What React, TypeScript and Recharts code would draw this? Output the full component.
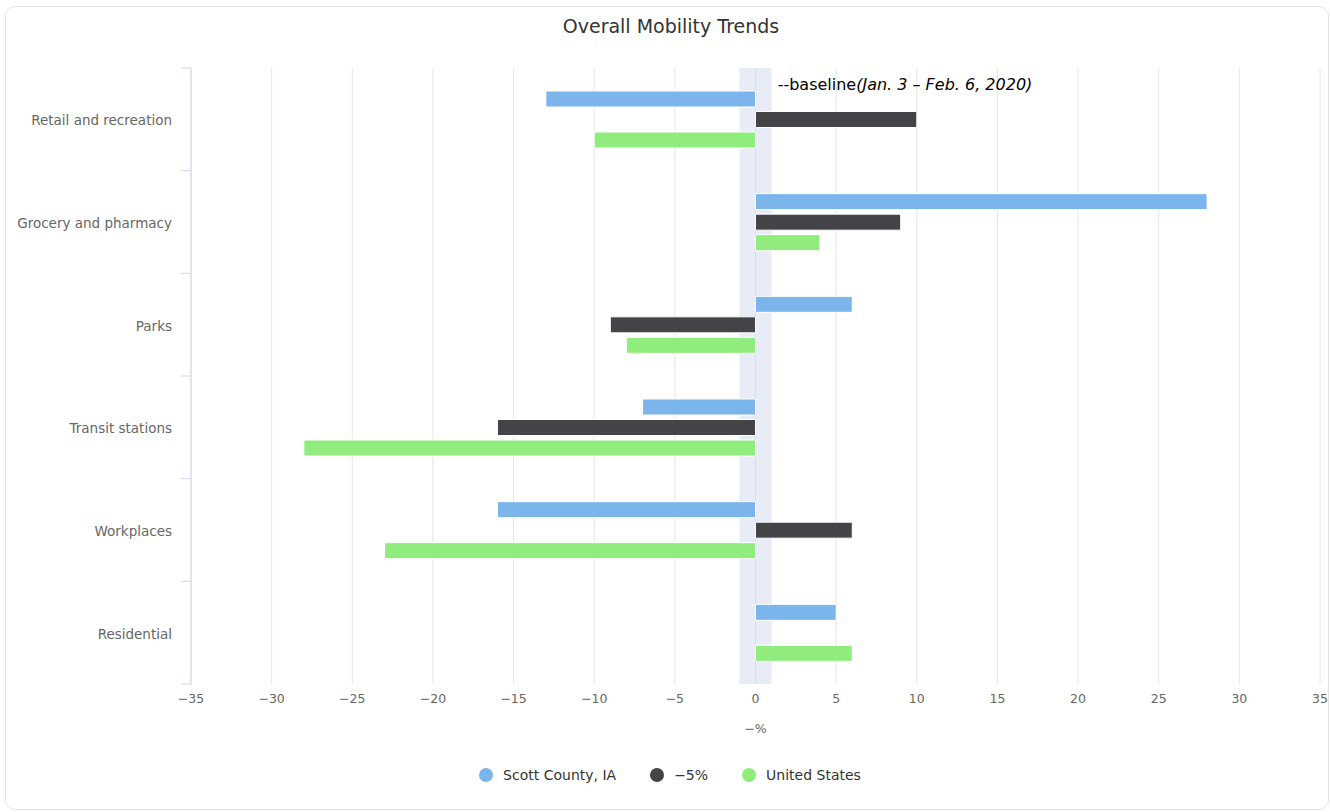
import { BarChart, Bar, XAxis, YAxis, CartesianGrid, Legend, ReferenceArea } from 'recharts';

const categories = ['Retail and recreation', 'Grocery and pharmacy', 'Parks', 'Transit stations', 'Workplaces', 'Residential'];
const scottCounty = [-13, 28, 6, -7, -16, 5];
const minusFive: (number | null)[] = [10, 9, -9, -16, 6, null];
const unitedStates = [-10, 4, -8, -28, -23, 6];
const xTicks = [-35, -30, -25, -20, -15, -10, -5, 0, 5, 10, 15, 20, 25, 30, 35];

const seriesNames = ['Scott County, IA', '\u22125%', 'United States'];
const seriesColors = ['#7cb5ec', '#434348', '#90ed7d'];

const FONT = '"Lucida Grande", "DejaVu Sans", sans-serif';

const data = categories.map((name, i) => ({
  name,
  scott: scottCounty[i],
  minus5: minusFive[i],
  us: unitedStates[i],
}));

const fmt = (v: number) => String(v).replace('-', '\u2212');

const CategoryTick = (props: any) => {
  const { x, y, payload, index } = props;
  const half = payload.offset ?? 0;
  return (
    <g>
      <line x1={x - 10} x2={x} y1={y - half} y2={y - half} stroke="#ccd6eb" />
      {index === categories.length - 1 && (
        <line x1={x - 10} x2={x} y1={y + half} y2={y + half} stroke="#ccd6eb" />
      )}
      <text x={x - 19} y={y + 1} textAnchor="end" dominantBaseline="central" fill="#666" fontSize={13.5} fontFamily={FONT}>
        {payload.value}
      </text>
    </g>
  );
};

const BaselineLabel = (props: any) => {
  const { viewBox } = props;
  if (!viewBox) return null;
  return (
    <text x={viewBox.x + viewBox.width + 6} y={viewBox.y + 16} dominantBaseline="central" fontSize={16} fontFamily={FONT} fill="#000">
      <tspan>--baseline</tspan>
      <tspan fontStyle="italic">(Jan. 3 – Feb. 6, 2020)</tspan>
    </text>
  );
};

const LegendContent = () => (
  <div style={{ display: 'flex', justifyContent: 'center', alignItems: 'center', height: 30, fontFamily: FONT, fontSize: 14, color: '#333', paddingLeft: 4 }}>
    {seriesNames.map((n, i) => (
      <div key={n} style={{ display: 'flex', alignItems: 'center', marginRight: i < seriesNames.length - 1 ? 34 : 0 }}>
        <span style={{ width: 14, height: 14, borderRadius: 7, background: seriesColors[i], display: 'inline-block', marginRight: 10 }} />
        <span>{n}</span>
      </div>
    ))}
  </div>
);

const App = () => {
  return (
    <div
      style={{
        position: 'absolute',
        left: 5,
        top: 6,
        width: 1322,
        height: 802,
        border: '1px solid #e3e3e3',
        borderRadius: 10,
        background: '#fff',
      }}
    >
      <div
        style={{
          position: 'absolute',
          top: 8,
          left: 4,
          width: '100%',
          textAlign: 'center',
          fontFamily: FONT,
          fontSize: 19,
          lineHeight: '22px',
          color: '#333',
        }}
      >
        Overall Mobility Trends
      </div>
      <BarChart
        width={1322}
        height={802}
        data={data}
        layout="vertical"
        margin={{ top: 61, right: 8, left: 10, bottom: 19 }}
        barSize={16}
        barGap={4.5}
      >
        <CartesianGrid horizontal={false} stroke="#e6e6e6" />
        <ReferenceArea x1={-1} x2={1} fill="#c2cfe8" fillOpacity={0.4} stroke="none" label={<BaselineLabel />} />
        <XAxis
          type="number"
          domain={[-35, 35]}
          ticks={xTicks}
          tickFormatter={fmt}
          axisLine={false}
          tickLine={false}
          height={76}
          tickMargin={4}
          tick={{ fill: '#666', fontSize: 12.5, fontFamily: FONT }}
          label={{ value: '\u2212%', position: 'insideBottom', offset: 27, fill: '#666', fontSize: 12.5, fontFamily: FONT }}
        />
        <YAxis
          type="category"
          dataKey="name"
          width={175}
          axisLine={{ stroke: '#ccd6eb' }}
          tickLine={false}
          tickSize={0}
          tickMargin={0}
          interval={0}
          tick={<CategoryTick />}
        />
        <Legend verticalAlign="bottom" content={<LegendContent />} />
        <Bar dataKey="scott" name={seriesNames[0]} fill={seriesColors[0]} stroke="#fff" strokeWidth={1} isAnimationActive={false} />
        <Bar dataKey="minus5" name={seriesNames[1]} fill={seriesColors[1]} stroke="#fff" strokeWidth={1} isAnimationActive={false} />
        <Bar dataKey="us" name={seriesNames[2]} fill={seriesColors[2]} stroke="#fff" strokeWidth={1} isAnimationActive={false} />
      </BarChart>
    </div>
  );
};

export default App;
